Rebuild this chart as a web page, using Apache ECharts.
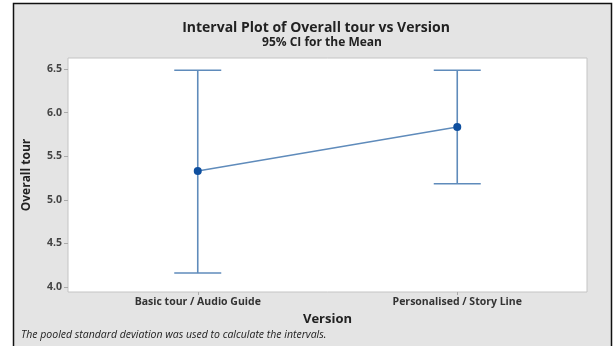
<!DOCTYPE html>
<html>
<head>
<meta charset="utf-8">
<script src="https://cdn.jsdelivr.net/npm/echarts@6/dist/echarts.min.js"></script>
<style>
  html, body { margin: 0; padding: 0; background: #fff; }
  #main { width: 614px; height: 346px; }
</style>
</head>
<body>
<div id="main"></div>
<script>
// data
const categories = ['Basic tour / Audio Guide', 'Personalised / Story Line'];
const means = [5.33, 5.835];
const lower = [4.16, 5.185];
const upper = [6.485, 6.485];
const yTicks = [4.0, 4.5, 5.0, 5.5, 6.0, 6.5];

const FONT = 'Open Sans';
const lineColor = '#5f8bbb';
const dotColor = '#0e4f9f';

const chart = echarts.init(document.getElementById('main'));

const intervals = categories.map((c, i) => [i, lower[i], upper[i]]);

const option = {
  backgroundColor: '#fff',
  animation: false,
  graphic: [
    {
      type: 'rect',
      z: -10,
      shape: { x: 13.5, y: 3.5, width: 598, height: 350 },
      style: { fill: '#e4e4e4', stroke: '#111', lineWidth: 1.5 }
    },
    {
      type: 'text',
      left: 21,
      top: 330,
      style: {
        text: 'The pooled standard deviation was used to calculate the intervals.',
        font: 'italic 10.5px "' + FONT + '"',
        fill: '#222'
      }
    }
  ],
  title: [
    {
      text: 'Interval Plot of Overall tour vs Version',
      left: 311,
      textAlign: 'center',
      top: 16,
      textStyle: { fontFamily: FONT, fontSize: 14, fontWeight: 'bold', color: '#222' }
    },
    {
      text: '95% CI for the Mean',
      left: 317,
      textAlign: 'center',
      top: 32,
      textStyle: { fontFamily: FONT, fontSize: 12, fontWeight: 'bold', color: '#222' }
    }
  ],
  grid: {
    left: 68,
    right: 27,
    top: 58,
    bottom: 54,
    show: true,
    backgroundColor: '#fff',
    borderColor: '#c4c4c4',
    borderWidth: 1
  },
  xAxis: {
    type: 'category',
    data: categories,
    name: 'Version',
    nameLocation: 'middle',
    nameGap: 20,
    nameTextStyle: { fontFamily: FONT, fontSize: 13, fontWeight: 'bold', color: '#222' },
    axisLine: { show: false },
    axisTick: { show: true, alignWithLabel: true, length: 3, lineStyle: { color: '#aaa' } },
    axisLabel: { fontFamily: FONT, fontSize: 10.5, fontWeight: 'bold', color: '#333', margin: 5 },
    splitLine: { show: false }
  },
  yAxis: {
    type: 'value',
    min: 3.943,
    max: 6.626,
    name: 'Overall tour',
    nameLocation: 'middle',
    nameGap: 35,
    nameTextStyle: { fontFamily: FONT, fontSize: 12, fontWeight: 'bold', color: '#222' },
    axisLine: { show: false },
    axisTick: { show: true, length: 4, customValues: yTicks, lineStyle: { color: '#aaa' } },
    axisLabel: {
      customValues: yTicks,
      fontFamily: FONT,
      fontSize: 10.5,
      fontWeight: 'bold',
      color: '#444',
      margin: 6,
      formatter: v => v.toFixed(1)
    },
    splitLine: { show: false }
  },
  series: [
    {
      type: 'custom',
      data: intervals,
      z: 2,
      renderItem: (params, api) => {
        const x = api.value(0);
        const lo = api.coord([x, api.value(1)]);
        const hi = api.coord([x, api.value(2)]);
        const half = 23.5;
        const style = { stroke: lineColor, lineWidth: 1.6 };
        return {
          type: 'group',
          children: [
            { type: 'line', shape: { x1: lo[0], y1: lo[1], x2: hi[0], y2: hi[1] }, style },
            { type: 'line', shape: { x1: hi[0] - half, y1: hi[1], x2: hi[0] + half, y2: hi[1] }, style },
            { type: 'line', shape: { x1: lo[0] - half, y1: lo[1], x2: lo[0] + half, y2: lo[1] }, style }
          ]
        };
      }
    },
    {
      type: 'line',
      data: means,
      z: 3,
      symbol: 'circle',
      symbolSize: 8,
      lineStyle: { color: lineColor, width: 1.4 },
      itemStyle: { color: dotColor },
      silent: true
    }
  ]
};

chart.setOption(option);
</script>
</body>
</html>
